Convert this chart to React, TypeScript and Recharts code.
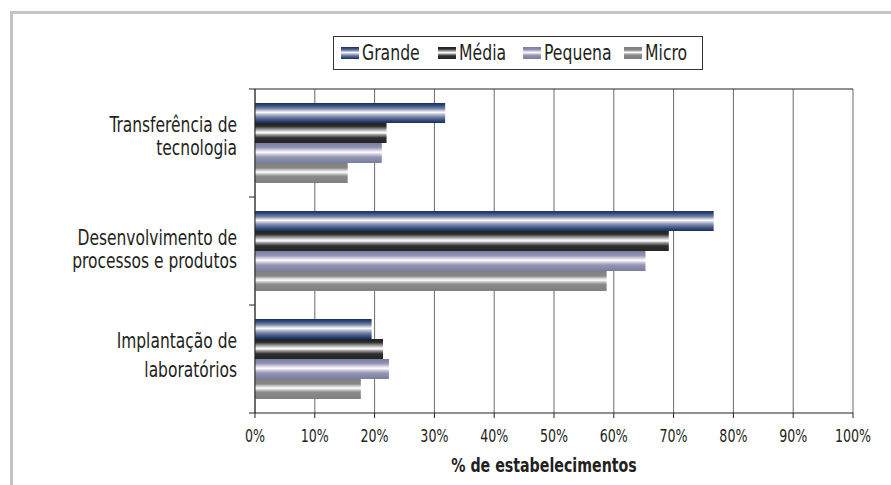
import React from 'react';
import { BarChart, Bar, XAxis, YAxis, CartesianGrid, Legend } from 'recharts';

const categories = [
  ['Transferência de', 'tecnologia'],
  ['Desenvolvimento de', 'processos e produtos'],
  ['Implantação de', 'laboratórios'],
];
const grande = [31.8, 76.7, 19.5];
const media = [22.0, 69.2, 21.4];
const pequena = [21.2, 65.3, 22.4];
const micro = [15.5, 58.8, 17.7];
const xTicks = [0, 10, 20, 30, 40, 50, 60, 70, 80, 90, 100];

const series = [
  { key: 'grande', name: 'Grande', grad: 'gGrande' },
  { key: 'media', name: 'Média', grad: 'gMedia' },
  { key: 'pequena', name: 'Pequena', grad: 'gPequena' },
  { key: 'micro', name: 'Micro', grad: 'gMicro' },
];

const data = categories.map((lines, i) => ({
  name: lines.join(' '),
  lines,
  grande: grande[i],
  media: media[i],
  pequena: pequena[i],
  micro: micro[i],
}));

const FONT = "'DejaVu Sans Condensed', 'DejaVu Sans', sans-serif";
const INK = '#231f20';
const W = 891;
const H = 485;
const TOP = 89;
const XAXIS_H = 72;
const BAND = (H - TOP - XAXIS_H) / categories.length;

// baseline offsets of the two label lines, relative to band centre
const lineDy = [
  [-11, 12],
  [-6, 17],
  [-11, 18],
];
// legend item left offsets inside the box
const legendLeft = [8, 105, 190, 291];

// squeeze text horizontally around an anchor x (stands in for a condensed face)
const squeeze = (x: number, k: number) => `translate(${x},0) scale(${k},1) translate(${-x},0)`;

const stops: Record<string, [number, string][]> = {
  gGrande: [[0, '#15305f'], [12, '#33497a'], [28, '#7682a6'], [40, '#cfd3e1'], [47, '#ffffff'], [55, '#c3c8da'], [70, '#7581a4'], [86, '#3a4e7c'], [100, '#15305f']],
  gMedia: [[0, '#242424'], [16, '#2a2a2a'], [30, '#8c8c8c'], [44, '#ececec'], [50, '#ffffff'], [58, '#a0a0a0'], [74, '#2e2e2e'], [100, '#242424']],
  gPequena: [[0, '#7b7d9f'], [22, '#9293b2'], [38, '#dcdce8'], [47, '#ffffff'], [55, '#d2d3e1'], [70, '#9596b4'], [100, '#7b7d9f']],
  gMicro: [[0, '#7f7f7f'], [25, '#878787'], [38, '#d9d9d9'], [46, '#ffffff'], [53, '#d0d0d0'], [66, '#8a8a8a'], [100, '#7f7f7f']],
};

const Grad = ({ id }: { id: string }) => (
  <linearGradient id={id} x1="0" y1="0" x2="0" y2="1">
    {stops[id.replace(/^L/, '')].map(([o, c]) => (
      <stop key={o} offset={`${o}%`} stopColor={c} />
    ))}
  </linearGradient>
);

const CategoryTick = (props: any) => {
  const { x, y, payload, index } = props;
  const lines = data[index]?.lines ?? [String(payload.value)];
  const dy = lineDy[index] ?? [-10, 12];
  const axisX = x + 18;
  return (
    <g>
      <text x={x} y={y} textAnchor="end" fontFamily={FONT} fontSize={21} fill={INK} transform={squeeze(x, 0.82)}>
        {lines.map((l: string, i: number) => (
          <tspan key={i} x={x} y={y + dy[i]}>{l}</tspan>
        ))}
      </text>
      <line x1={axisX - 6} x2={axisX} y1={y - BAND / 2} y2={y - BAND / 2} stroke="#222" />
      {index === categories.length - 1 && (
        <line x1={axisX - 6} x2={axisX} y1={y + BAND / 2} y2={y + BAND / 2} stroke="#222" />
      )}
    </g>
  );
};

const PercentTick = (props: any) => {
  const { x, y, payload } = props;
  return (
    <text x={x} y={y} dy="0.72em" textAnchor="middle" fontFamily={FONT} fontSize={18} fill={INK} transform={squeeze(x, 0.78)}>
      {`${payload.value}%`}
    </text>
  );
};

const AxisTitle = (props: any) => {
  const vb = props.viewBox || { x: 255, y: 413, width: 598, height: XAXIS_H };
  const cx = vb.x + vb.width / 2 - 10;
  const by = vb.y + vb.height - 13;
  return (
    <text x={cx} y={by} textAnchor="middle" fontFamily={FONT} fontSize={20} fontWeight="bold" fill={INK} transform={squeeze(cx, 0.79)}>
      % de estabelecimentos
    </text>
  );
};

const LegendBox = () => (
  <div
    style={{
      position: 'relative',
      boxSizing: 'border-box',
      width: 370,
      height: 34,
      border: '1px solid #333',
      background: '#fff',
      fontFamily: FONT,
      fontSize: 21,
      color: INK,
    }}
  >
    {series.map((s, i) => (
      <div
        key={s.key}
        style={{ position: 'absolute', left: legendLeft[i] - 1, top: 0, height: 32, display: 'flex', alignItems: 'center' }}
      >
        <svg width={18} height={12} style={{ display: 'block' }}>
          <defs>
            <Grad id={'L' + s.grad} />
          </defs>
          <rect width={18} height={12} fill={`url(#L${s.grad})`} />
        </svg>
        <span style={{ display: 'inline-block', marginLeft: 3, transform: 'scaleX(0.83)', transformOrigin: 'left center', whiteSpace: 'nowrap' }}>
          {s.name}
        </span>
      </div>
    ))}
  </div>
);

export default function App() {
  return (
    <div style={{ position: 'absolute', left: 0, top: 0, width: W, height: H, background: '#fff', overflow: 'hidden' }}>
      <div
        style={{
          position: 'absolute',
          left: 10,
          top: 11,
          width: 900,
          height: 500,
          borderTop: '3px solid #c4c4c4',
          borderLeft: '3px solid #c4c4c4',
        }}
      />
      <div style={{ position: 'absolute', left: 0, top: 0 }}>
        <BarChart
          width={W}
          height={H}
          data={data}
          layout="vertical"
          margin={{ top: TOP, right: 38, left: 0, bottom: 0 }}
          barCategoryGap={14}
          barGap={0}
        >
          <defs>
            {series.map(s => (
              <Grad key={s.grad} id={s.grad} />
            ))}
          </defs>
          <CartesianGrid horizontal={false} stroke="#6a6a6a" />
          <CartesianGrid vertical={false} stroke="#222" horizontalCoordinatesGenerator={({ offset }: any) => [offset.top]} />
          <XAxis
            type="number"
            domain={[0, 100]}
            ticks={xTicks}
            height={XAXIS_H}
            axisLine={{ stroke: '#222' }}
            tickLine={{ stroke: '#222' }}
            tickSize={5}
            tickMargin={11}
            tick={<PercentTick />}
            interval={0}
            label={<AxisTitle />}
          />
          <YAxis
            type="category"
            dataKey="name"
            width={255}
            axisLine={{ stroke: '#222' }}
            tickLine={false}
            tickSize={6}
            tickMargin={12}
            tick={<CategoryTick />}
            interval={0}
          />
          <Legend
            layout="horizontal"
            verticalAlign="middle"
            align="center"
            wrapperStyle={{ top: 36, left: 333, width: 370 }}
            content={() => <LegendBox />}
          />
          {series.map(s => (
            <Bar
              key={s.key}
              dataKey={s.key}
              name={s.name}
              fill={`url(#${s.grad})`}
              barSize={20}
              isAnimationActive={false}
            />
          ))}
        </BarChart>
      </div>
    </div>
  );
}
